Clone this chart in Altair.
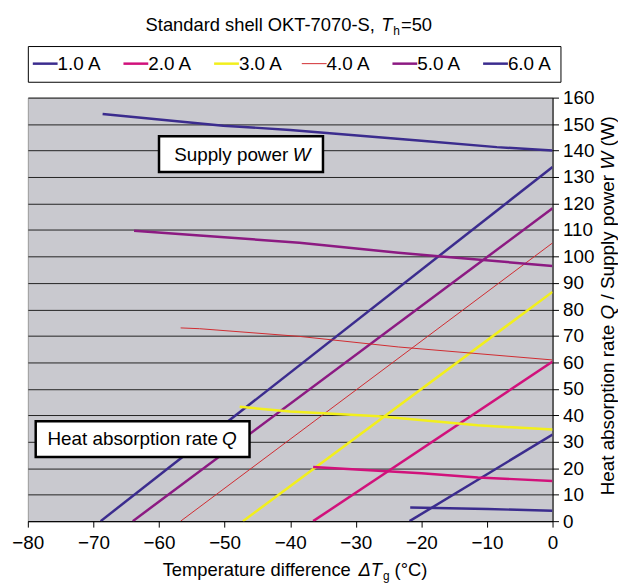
import altair as alt
import pandas as pd

# ---- series definitions ----
currents = ["1.0 A", "2.0 A", "3.0 A", "4.0 A", "5.0 A", "6.0 A"]
line_colors = ["#3b2c8e", "#d1117b", "#f2ef1c", "#d02a30", "#8c1a82", "#3b2c8e"]
line_widths = [2.5, 2.5, 2.5, 1.0, 2.5, 2.5]

# Heat absorption rate Q (rising lines)
q1_dt = [-21.8, 0.0]
q1_val = [0.0, 32.7]
q2_dt = [-36.5, 0.0]
q2_val = [0.0, 60.3]
q3_dt = [-47.2, 0.0]
q3_val = [0.0, 86.6]
q4_dt = [-56.7, 0.0]
q4_val = [0.0, 105.1]
q5_dt = [-64.0, 0.0]
q5_val = [0.0, 118.2]
q6_dt = [-68.9, 0.0]
q6_val = [0.0, 133.8]

# Supply power W (slightly falling lines)
w1_dt = [-21.7, -9.9, 0.0]
w1_val = [5.2, 4.6, 3.9]
w2_dt = [-36.5, -20.0, -11.4, 0.0]
w2_val = [20.5, 18.1, 16.5, 15.2]
w3_dt = [-47.7, -40.0, -26.5, -11.4, 0.0]
w3_val = [43.2, 41.4, 39.6, 36.2, 34.6]
w4_dt = [-56.7, -53.8, -38.6, -23.5, 0.0]
w4_val = [73.0, 72.7, 69.8, 65.8, 60.9]
w5_dt = [-63.8, -53.8, -38.6, -23.5, -17.4, 0.0]
w5_val = [109.7, 107.9, 105.2, 101.4, 100.1, 96.4]
w6_dt = [-68.6, -50.2, -40.0, -20.0, -8.5, 0.0]
w6_val = [153.8, 149.4, 147.8, 143.7, 141.3, 140.0]

x_ticks = [-80, -70, -60, -50, -40, -30, -20, -10, 0]
y_ticks = [0, 10, 20, 30, 40, 50, 60, 70, 80, 90, 100, 110, 120, 130, 140, 150, 160]

# annotation boxes (data coordinates)
box_labels = ["Supply power", "Heat absorption rate"]
box_italic = ["W", "Q"]
box_x = [-60.0, -78.8]
box_x2 = [-35.0, -46.2]
box_y = [145.4, 37.7]
box_y2 = [131.9, 24.2]
text_end_x = [-40.3, -51.0]
italic_start_x = [-39.6, -50.4]
text_y = [138.3, 30.9]

# rich-text titles: (text, italic, font size)
title_parts = [("Standard shell OKT-7070-S,", False, 18.5), ("T", True, 18.5),
               ("h", False, 12), ("=50", False, 18.5)]
xtitle_parts = [("Temperature difference", False, 18.5), ("ΔT", True, 18.5),
                ("g", False, 12), ("(°C)", False, 18.5)]
ytitle_parts = [("Heat absorption rate", False, 19), ("Q", True, 19),
                ("/ Supply power", False, 19), ("W", True, 19), ("(W)", False, 19)]

# ---- build table ----
rows = []
series = [
    ("1.0 A", "Q", q1_dt, q1_val), ("2.0 A", "Q", q2_dt, q2_val),
    ("3.0 A", "Q", q3_dt, q3_val), ("4.0 A", "Q", q4_dt, q4_val),
    ("5.0 A", "Q", q5_dt, q5_val), ("6.0 A", "Q", q6_dt, q6_val),
    ("1.0 A", "W", w1_dt, w1_val), ("2.0 A", "W", w2_dt, w2_val),
    ("3.0 A", "W", w3_dt, w3_val), ("4.0 A", "W", w4_dt, w4_val),
    ("5.0 A", "W", w5_dt, w5_val), ("6.0 A", "W", w6_dt, w6_val),
]
width_of = dict(zip(currents, line_widths))
for cur, kind, xs, ys in series:
    for i, (x, y) in enumerate(zip(xs, ys)):
        rows.append({"current": cur, "kind": kind, "series": cur + kind,
                     "dt": x, "val": y, "order": i, "sw": width_of[cur]})
df = pd.DataFrame(rows)

boxes = pd.DataFrame({"label": box_labels, "italic": box_italic,
                      "x": box_x, "x2": box_x2, "y": box_y, "y2": box_y2,
                      "tx": text_end_x, "ix": italic_start_x, "ty": text_y})

FONT = "Liberation Sans"
W_PLOT, H_PLOT = 529, 427

x_scale = alt.Scale(domain=[-80, 0], nice=False, zero=False)
y_scale = alt.Scale(domain=[0, 160], nice=False)

x_axis = alt.Axis(values=x_ticks, grid=False, labelFlush=False, labelPadding=7, title=None)
y_axis = alt.Axis(values=y_ticks, orient="right", grid=True, labelOverlap=False,
                  labelPadding=4, title=None)

legend = alt.Legend(
    title=None, orient="none", legendX=0, legendY=-52,
    direction="horizontal", columns=6,
    symbolType="stroke", symbolSize=625, labelFontSize=19, labelFont=FONT,
    labelColor="black", labelOffset=3, columnPadding=16.4, padding=8,
    strokeColor="black", fillColor="white",
    symbolStrokeWidth=alt.ExprRef("datum.value == '4.0 A' ? 1 : 2.5"),
)

lines = alt.Chart(df).mark_line(clip=True).encode(
    x=alt.X("dt:Q", scale=x_scale, axis=x_axis),
    y=alt.Y("val:Q", scale=y_scale, axis=y_axis),
    color=alt.Color("current:N", scale=alt.Scale(domain=currents, range=line_colors),
                    legend=legend),
    strokeWidth=alt.StrokeWidth("sw:Q", scale=None, legend=None),
    detail="series:N",
    order="order:Q",
)

rects = alt.Chart(boxes).mark_rect(fill="white", stroke="black", strokeWidth=2.5).encode(
    x=alt.X("x:Q", scale=x_scale, axis=x_axis), x2="x2:Q",
    y=alt.Y("y:Q", scale=y_scale, axis=y_axis), y2="y2:Q",
)
texts = alt.Chart(boxes).mark_text(align="right", baseline="middle", font=FONT,
                                   fontSize=19, color="black").encode(
    x=alt.X("tx:Q", scale=x_scale, axis=x_axis),
    y=alt.Y("ty:Q", scale=y_scale, axis=y_axis), text="label:N",
)
itexts = alt.Chart(boxes).mark_text(align="left", baseline="middle", font=FONT,
                                    fontSize=19, fontStyle="italic", color="black").encode(
    x=alt.X("ix:Q", scale=x_scale, axis=x_axis),
    y=alt.Y("ty:Q", scale=y_scale, axis=y_axis), text="italic:N",
)

# Arial/Liberation Sans advance widths (em) used to chain the rich-text pieces
ADV = {" ": .278, "/": .278, "S": .667, "t": .278, "a": .556, "n": .556, "d": .556,
       "r": .333, "s": .5, "h": .556, "e": .556, "l": .222, "O": .778, "K": .667,
       "T": .611, "-": .333, "7": .556, "0": .556, ",": .278, "=": .584, "5": .556,
       "m": .833, "p": .556, "u": .556, "i": .222, "f": .278, "c": .5, "Δ": .668,
       "g": .556, "(": .333, "°": .4, "C": .722, ")": .333, "H": .722, "b": .556,
       "o": .556, "Q": .778, "y": .5, "w": .722, "W": .944}


def text_width(s, fs):
    return sum(ADV.get(ch, .556) for ch in s) * fs


def rich_text(parts, x0, y0, vertical):
    out = []
    pos = 0.0
    for i, (txt, italic, fs) in enumerate(parts):
        sub = fs < 15
        style = "italic" if italic else "normal"
        if vertical:
            mk = alt.Chart(boxes.head(1)).mark_text(
                text=txt, font=FONT, fontSize=fs, fontStyle=style, color="black",
                align="left", baseline="middle", angle=270,
            ).encode(x=alt.value(x0), y=alt.value(y0 - pos))
        else:
            mk = alt.Chart(boxes.head(1)).mark_text(
                text=txt, font=FONT, fontSize=fs, fontStyle=style, color="black",
                align="left", baseline="alphabetic",
            ).encode(x=alt.value(x0 + pos), y=alt.value(y0 + (4 if sub else 0)))
        out.append(mk)
        pos += text_width(txt, fs)
        if i + 1 < len(parts):
            nxt_txt, nxt_it, nxt_fs = parts[i + 1]
            if nxt_txt.startswith("(") or nxt_txt.startswith("/") or nxt_it:
                pos += .278 * parts[0][2]   # a word space
            else:
                pos += 1.0                  # pieces that touch (subscripts)
    return out


title_marks = rich_text(title_parts, 118.7, -67, False)
xtitle_marks = rich_text(xtitle_parts, 135.9, 482, False)
ytitle_marks = rich_text(ytitle_parts, 585, 401, True)

chart = alt.layer(lines, rects, texts, itexts,
                  *title_marks, *xtitle_marks, *ytitle_marks).properties(
    width=W_PLOT, height=H_PLOT,
    padding={"left": 3, "right": 0, "top": 6, "bottom": 0},
).configure_view(
    fill="#c9c9cf", stroke="#999999", strokeWidth=1,
).configure_axis(
    labelFont=FONT, labelFontSize=19, labelColor="black",
    domainColor="black", tickColor="black", tickSize=6,
    gridColor="#222222", gridWidth=1,
)

chart.save("out.html", embed_options={"renderer": "svg", "actions": False})
